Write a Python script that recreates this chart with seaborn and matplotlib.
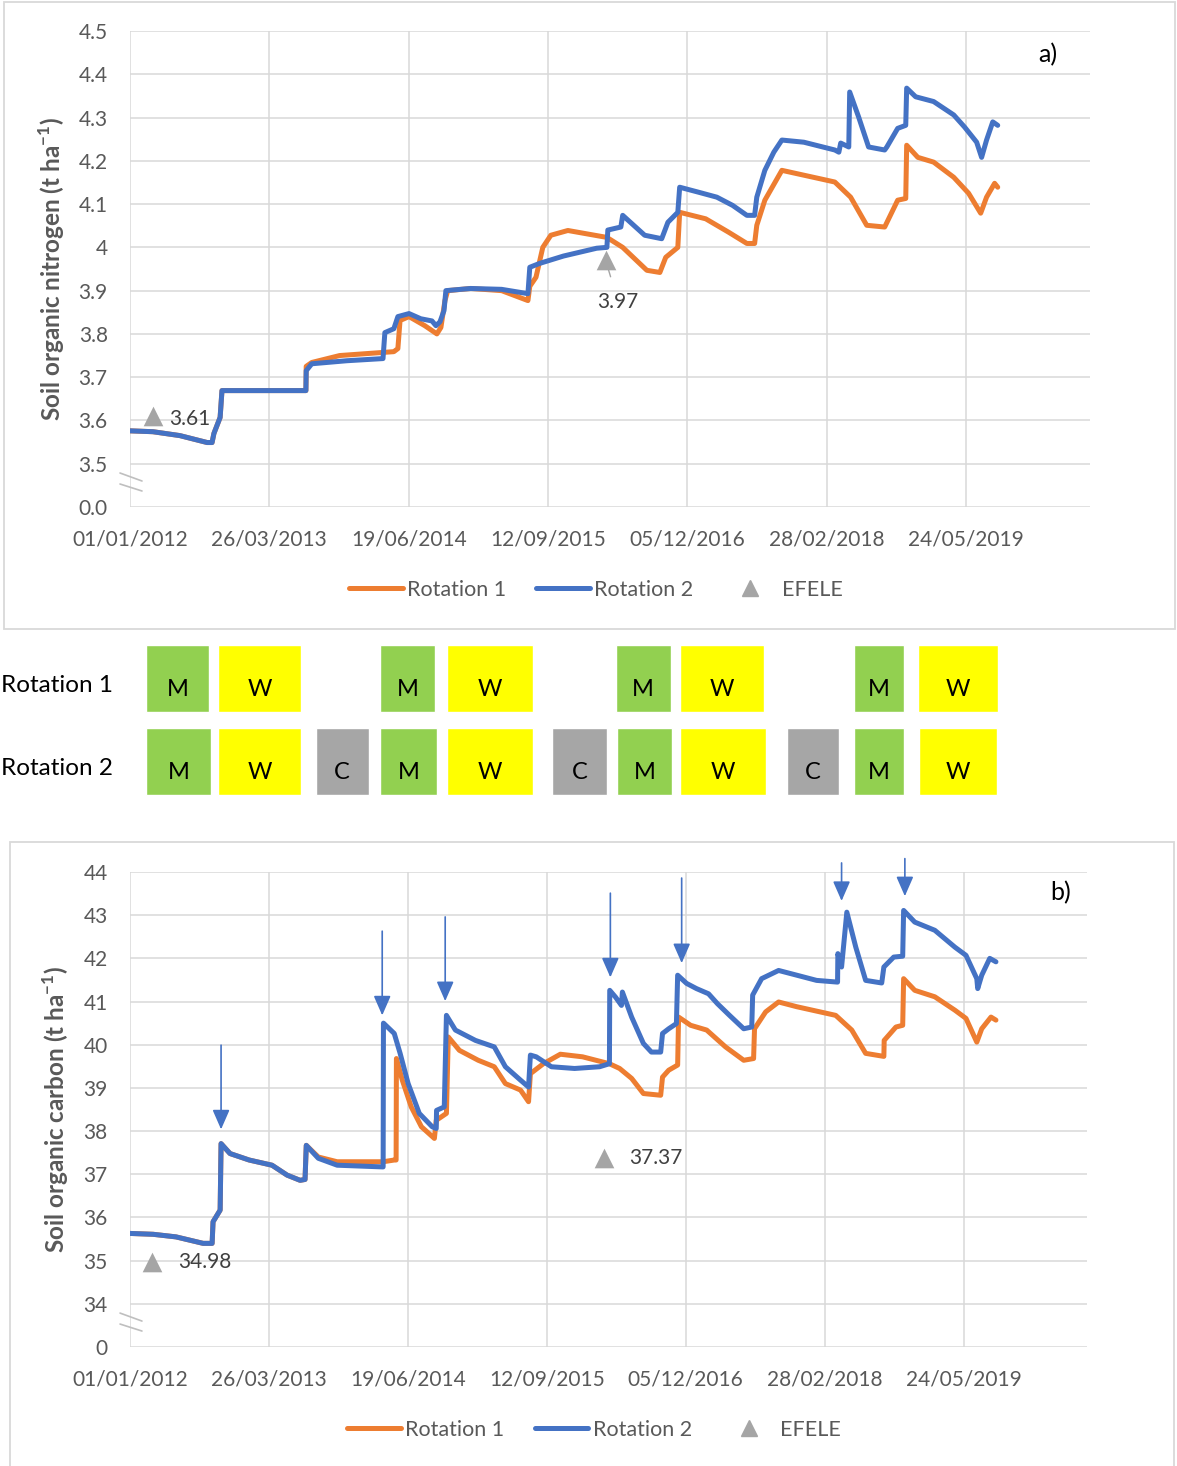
import numpy as np
import pandas as pd
import matplotlib.pyplot as plt
import matplotlib.dates as mdates
import matplotlib.transforms as mtransforms
from matplotlib.patches import Rectangle
from matplotlib.lines import Line2D
import seaborn as sns

START = pd.Timestamp('2012-01-01')

# a) soil organic nitrogen (days since 01/01/2012, t/ha)
n_rot1_days = [0, 74, 161, 249, 265, 271, 291, 297, 568, 569, 587, 677, 852, 865, 872, 901,
               952, 991, 1004, 1017, 1026, 1100, 1200, 1285, 1291, 1311, 1333, 1359, 1414,
               1540, 1591, 1669, 1711, 1730, 1769, 1775, 1859, 1933, 1992, 2017, 2024, 2050,
               2105, 2276, 2327, 2379, 2437, 2479, 2505, 2508, 2544, 2595, 2660, 2708, 2747,
               2766, 2792, 2802]
n_rot1 = [3.576, 3.574, 3.565, 3.549, 3.549, 3.57, 3.607, 3.669, 3.669, 3.725, 3.734, 3.75,
          3.759, 3.766, 3.831, 3.84, 3.819, 3.80, 3.815, 3.877, 3.90, 3.905, 3.90, 3.877, 3.91,
          3.931, 4.0, 4.028, 4.039, 4.023, 4.0, 3.947, 3.942, 3.977, 4.0, 4.081, 4.066, 4.035,
          4.009, 4.009, 4.051, 4.109, 4.178, 4.151, 4.116, 4.051, 4.047, 4.109, 4.113, 4.236,
          4.208, 4.197, 4.162, 4.125, 4.079, 4.116, 4.148, 4.139]
n_rot2_days = [0, 74, 161, 249, 265, 271, 291, 297, 568, 569, 587, 700, 817, 823, 852, 865,
               901, 939, 975, 988, 1001, 1014, 1020, 1100, 1200, 1285, 1291, 1323, 1400, 1507,
               1540, 1543, 1585, 1591, 1662, 1717, 1737, 1769, 1775, 1833, 1895, 1946, 1992,
               2017, 2024, 2050, 2079, 2105, 2176, 2276, 2289, 2295, 2321, 2324, 2353, 2385,
               2437, 2444, 2479, 2505, 2508, 2537, 2595, 2660, 2695, 2734, 2750, 2766, 2786, 2802]
n_rot2 = [3.576, 3.574, 3.565, 3.549, 3.549, 3.57, 3.607, 3.669, 3.669, 3.715, 3.731, 3.738,
          3.743, 3.803, 3.812, 3.84, 3.847, 3.835, 3.83, 3.819, 3.828, 3.854, 3.90, 3.905, 3.903,
          3.893, 3.954, 3.963, 3.98, 3.998, 4.0, 4.04, 4.047, 4.074, 4.028, 4.02, 4.058, 4.081,
          4.139, 4.128, 4.116, 4.097, 4.074, 4.074, 4.116, 4.178, 4.22, 4.248, 4.243, 4.225,
          4.22, 4.241, 4.232, 4.359, 4.301, 4.232, 4.225, 4.232, 4.275, 4.282, 4.368, 4.348,
          4.337, 4.306, 4.278, 4.243, 4.208, 4.248, 4.29, 4.282]
n_efele_days = [74, 1536]
n_efele = [3.61, 3.97]

# b) soil organic carbon
c_rot1_days = [0, 75, 149, 237, 266, 269, 292, 295, 324, 386, 460, 509, 551, 567, 571, 610,
               671, 820, 856, 862, 863, 882, 911, 944, 986, 992, 1025, 1031, 1067, 1128, 1180,
               1216, 1265, 1291, 1297, 1339, 1394, 1466, 1553, 1586, 1625, 1663, 1719, 1725,
               1745, 1774, 1777, 1816, 1868, 1929, 1988, 2020, 2023, 2059, 2101, 2160, 2286,
               2338, 2383, 2442, 2443, 2481, 2503, 2506, 2542, 2607, 2672, 2708, 2743, 2759,
               2789, 2805]
c_rot1 = [35.63, 35.61, 35.55, 35.40, 35.40, 35.9, 36.17, 37.71, 37.48, 37.33, 37.21, 36.98,
          36.86, 36.88, 37.67, 37.40, 37.29, 37.29, 37.33, 37.33, 39.68, 39.18, 38.56, 38.10,
          37.83, 38.25, 38.41, 40.18, 39.87, 39.64, 39.49, 39.10, 38.95, 38.68, 39.33, 39.56,
          39.78, 39.72, 39.56, 39.45, 39.22, 38.87, 38.83, 39.25, 39.41, 39.53, 40.64, 40.45,
          40.34, 39.95, 39.64, 39.68, 40.37, 40.76, 40.99, 40.88, 40.68, 40.34, 39.80, 39.73,
          40.10, 40.41, 40.45, 41.53, 41.26, 41.11, 40.80, 40.61, 40.06, 40.37, 40.64, 40.57]
c_rot2_days = [0, 75, 149, 237, 266, 269, 292, 295, 324, 386, 460, 509, 551, 567, 571, 610,
               671, 820, 821, 856, 875, 901, 937, 979, 992, 993, 1018, 1025, 1054, 1119, 1180,
               1216, 1265, 1291, 1297, 1316, 1365, 1440, 1521, 1553, 1554, 1573, 1592, 1595,
               1625, 1663, 1689, 1719, 1725, 1745, 1770, 1774, 1803, 1835, 1874, 1903, 1942,
               1988, 2014, 2017, 2046, 2101, 2160, 2224, 2292, 2293, 2305, 2322, 2351, 2383,
               2435, 2442, 2474, 2503, 2506, 2542, 2607, 2672, 2708, 2743, 2746, 2759, 2785, 2805]
c_rot2 = [35.63, 35.61, 35.55, 35.40, 35.40, 35.9, 36.17, 37.71, 37.48, 37.33, 37.21, 36.98,
          36.86, 36.88, 37.67, 37.37, 37.21, 37.17, 40.50, 40.26, 39.80, 39.10, 38.41, 38.10,
          38.06, 38.48, 38.56, 40.68, 40.34, 40.10, 39.95, 39.49, 39.18, 39.02, 39.76, 39.72,
          39.49, 39.45, 39.49, 39.56, 41.26, 41.10, 40.91, 41.22, 40.64, 40.03, 39.83, 39.83,
          40.26, 40.37, 40.49, 41.61, 41.42, 41.30, 41.18, 40.95, 40.68, 40.37, 40.41, 41.15,
          41.53, 41.72, 41.61, 41.49, 41.45, 42.11, 41.80, 43.07, 42.26, 41.49, 41.43, 41.80,
          42.03, 42.05, 43.11, 42.84, 42.65, 42.26, 42.07, 41.53, 41.30, 41.61, 42.00, 41.92]
c_efele_days = [71, 1537]
c_efele = [34.98, 37.37]
arrow_days = [295, 817, 1021, 1556, 1787, 2305, 2510]
arrow_tip = [38.04, 40.68, 41.01, 41.56, 41.89, 43.33, 43.44]
arrow_top = [39.99, 42.63, 42.96, 43.51, 43.86, 44.21, 44.31]

# crop calendar (days since 01/01/2012)
rot1_crops = ['M', 'W', 'M', 'W', 'M', 'W', 'M', 'W']
rot1_start = [52, 284, 807, 1023, 1569, 1775, 2337, 2544]
rot1_end = [255, 552, 985, 1301, 1746, 2047, 2498, 2802]
rot2_crops = ['M', 'W', 'C', 'M', 'W', 'C', 'M', 'W', 'C', 'M', 'W']
rot2_start = [52, 284, 600, 807, 1023, 1362, 1572, 1775, 2121, 2337, 2547]
rot2_end = [261, 552, 771, 991, 1301, 1540, 1750, 2053, 2289, 2498, 2799]

date_ticks = [0, 450, 900, 1350, 1800, 2250, 2700]
date_labels = ['01/01/2012', '26/03/2013', '19/06/2014', '12/09/2015',
               '05/12/2016', '28/02/2018', '24/05/2019']
n_ticks = [3.4, 3.5, 3.6, 3.7, 3.8, 3.9, 4.0, 4.1, 4.2, 4.3, 4.4, 4.5]
n_labels = ['0.0', '3.5', '3.6', '3.7', '3.8', '3.9', '4', '4.1', '4.2', '4.3', '4.4', '4.5']
c_ticks = list(range(33, 45))
c_labels = ['0'] + [str(v) for v in range(34, 45)]

ORANGE = '#ED7D31'
BLUE = '#4472C4'
GREY = '#A5A5A5'
TXT = '#595959'
GRID = '#D9D9D9'
crop_colors = {'M': '#92D050', 'W': '#FFFF00', 'C': '#A6A6A6'}

sns.set_style('white')
plt.rcParams['font.family'] = ['Lato', 'DejaVu Sans']
plt.rcParams['mathtext.fontset'] = 'custom'
plt.rcParams['mathtext.rm'] = 'Lato'
plt.rcParams['mathtext.bf'] = 'Lato:bold'


def to_dates(days):
    return START + pd.to_timedelta(np.asarray(days), unit='D')


def long_df(d1, v1, d2, v2):
    return pd.concat([
        pd.DataFrame({'date': to_dates(d1), 'value': v1, 'series': 'Rotation 1'}),
        pd.DataFrame({'date': to_dates(d2), 'value': v2, 'series': 'Rotation 2'}),
    ], ignore_index=True)


W, H = 1177, 1466
fig = plt.figure(figsize=(W / 100, H / 100), dpi=100)

ax_a = fig.add_axes([130 / W, 1 - 507 / H, 960 / W, 476 / H])
ax_r = fig.add_axes([130 / W, 1 - 803 / H, 960 / W, 166 / H])
ax_b = fig.add_axes([130 / W, 1 - 1347 / H, 957 / W, 475 / H])

# frames around the two charts
fig.add_artist(Rectangle((4 / W, 1 - 629 / H), 1171 / W, 627 / H, transform=fig.transFigure,
                         fill=False, ec=GRID, lw=1.3))
fig.add_artist(Rectangle((10 / W, 1 - 1470 / H), 1164 / W, 628 / H, transform=fig.transFigure,
                         fill=False, ec=GRID, lw=1.3))

palette = {'Rotation 1': ORANGE, 'Rotation 2': BLUE}
LW = 3.6


def style_chart(ax, yticks, ylabels, ylabel):
    ax.set_xlim(START, START + pd.Timedelta(days=3100))
    ax.set_xticks(to_dates(date_ticks), date_labels)
    ax.set_yticks(yticks, ylabels)
    ax.set_ylim(yticks[0], yticks[-1])
    ax.grid(True, color=GRID, lw=1.1)
    ax.set_axisbelow(True)
    for s in ax.spines.values():
        s.set_visible(False)
    ax.tick_params(axis='both', length=0, labelsize=15, labelcolor=TXT)
    ax.tick_params(axis='y', pad=16)
    ax.tick_params(axis='x', pad=16)
    ax.set_xlabel('')
    ax.set_ylabel(ylabel, fontsize=17.5, fontweight='bold', color=TXT)
    # axis break marks
    for y0, y1 in [(0.0714, 0.0546), (0.0483, 0.0336)]:
        ax.add_line(Line2D([-0.0104, 0.0125], [y0, y1], transform=ax.transAxes,
                           color='#BFBFBF', lw=1.2, clip_on=False))
    handles = [Line2D([], [], color=ORANGE, lw=LW, solid_capstyle='round'),
               Line2D([], [], color=BLUE, lw=LW, solid_capstyle='round'),
               Line2D([], [], color=GREY, marker='^', ls='none', markersize=11.5)]
    leg = ax.legend(handles, ['Rotation 1', 'Rotation 2', 'EFELE'], ncol=3, frameon=False,
                    loc='center', bbox_to_anchor=(0.485, -0.174), fontsize=15.5,
                    handlelength=2.5, handletextpad=0.2, columnspacing=1.4)
    for t in leg.get_texts():
        t.set_color(TXT)


# ---- a) nitrogen
sns.lineplot(data=long_df(n_rot1_days, n_rot1, n_rot2_days, n_rot2), x='date', y='value',
             hue='series', palette=palette, estimator=None, sort=False, lw=LW,
             solid_capstyle='round', solid_joinstyle='round', legend=False, ax=ax_a)
sns.scatterplot(x=to_dates(n_efele_days), y=n_efele, marker='^', s=200, color=GREY,
                linewidth=0, ax=ax_a, zorder=5)
style_chart(ax_a, n_ticks, n_labels, r'Soil organic nitrogen (t ha$^{\mathbf{-1}}$)')
ax_a.yaxis.set_label_coords(-0.0656, 0.5)
ax_a.annotate('3.61', xy=(to_dates(n_efele_days)[0], n_efele[0]), xytext=(12, -2),
              textcoords='offset points', ha='left', va='center', fontsize=15, color='#404040')
ax_a.annotate('3.97', xy=(to_dates(n_efele_days)[1], n_efele[1]), xytext=(9, -30),
              textcoords='offset points', ha='center', va='center', fontsize=15, color='#404040',
              arrowprops=dict(arrowstyle='-', color=GREY, lw=1, shrinkA=9, shrinkB=7))
ax_a.text(0.956, 0.95, 'a)', transform=ax_a.transAxes, fontsize=18, color='black',
          ha='center', va='center')

# ---- crop rotation blocks
for row, (crops, st, en) in enumerate([(rot1_crops, rot1_start, rot1_end),
                                        (rot2_crops, rot2_start, rot2_end)]):
    st = np.array(st)
    en = np.array(en)
    ax_r.barh(row, en - st, left=st, height=0.81, color=[crop_colors[c] for c in crops])
    for c, s0, e0 in zip(crops, st, en):
        ax_r.text((s0 + e0) / 2, row + 0.13, c, ha='center', va='center', fontsize=17,
                  color='black')
ax_r.set_xlim(0, 3100)
ax_r.set_ylim(1.5, -0.5)
ax_r.set_xticks([])
ax_r.set_yticks([0, 1], ['Rotation 1', 'Rotation 2'])
ax_r.tick_params(axis='y', length=0, labelsize=17.5, labelcolor='black', pad=12)
shift = mtransforms.ScaledTranslation(0, -0.055, fig.dpi_scale_trans)
for lab in ax_r.get_yticklabels():
    lab.set_transform(lab.get_transform() + shift)
for s in ax_r.spines.values():
    s.set_visible(False)

# ---- b) carbon
sns.lineplot(data=long_df(c_rot1_days, c_rot1, c_rot2_days, c_rot2), x='date', y='value',
             hue='series', palette=palette, estimator=None, sort=False, lw=LW,
             solid_capstyle='round', solid_joinstyle='round', legend=False, ax=ax_b)
sns.scatterplot(x=to_dates(c_efele_days), y=c_efele, marker='^', s=200, color=GREY,
                linewidth=0, ax=ax_b, zorder=5)
style_chart(ax_b, c_ticks, c_labels, r'Soil organic carbon (t ha$^{\mathbf{-1}}$)')
ax_b.yaxis.set_label_coords(-0.0617, 0.5)
for lab, d, v, dx in [('34.98', c_efele_days[0], c_efele[0], 19),
                      ('37.37', c_efele_days[1], c_efele[1], 18)]:
    ax_b.annotate(lab, xy=(to_dates([d])[0], v), xytext=(dx, 0), textcoords='offset points',
                  ha='left', va='center', fontsize=15, color='#404040')
for d, tip, top in zip(arrow_days, arrow_tip, arrow_top):
    x = mdates.date2num(to_dates([d])[0])
    ax_b.annotate('', xy=(x, tip), xytext=(x, top), annotation_clip=False,
                  arrowprops=dict(arrowstyle='-|>,head_length=0.8,head_width=0.35',
                                  color=BLUE, lw=1.2, shrinkA=0, shrinkB=0,
                                  mutation_scale=15))
ax_b.text(0.972, 0.956, 'b)', transform=ax_b.transAxes, fontsize=18, color='black',
          ha='center', va='center')

fig.savefig('out.png', dpi=100)
